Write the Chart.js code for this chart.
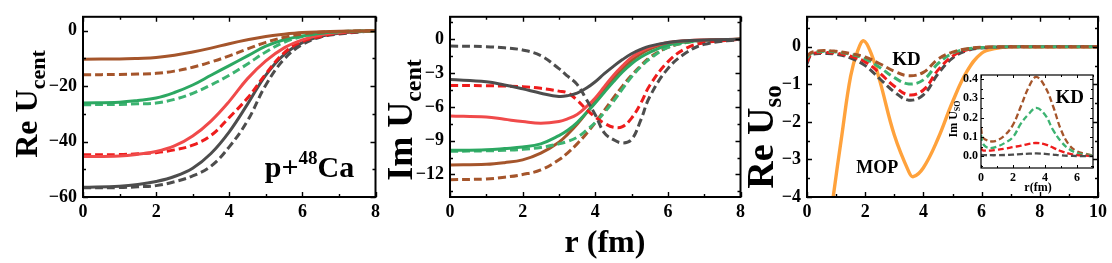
<!DOCTYPE html>
<html>
<head>
<meta charset="utf-8">
<script src="https://cdn.jsdelivr.net/npm/chart.js@4/dist/chart.umd.min.js"></script>
<style>
  body { margin: 0; background: #fff; }
  #wrap { position: relative; width: 1112px; height: 263px; overflow: hidden; }
  canvas { position: absolute; top: 0; }
</style>
</head>
<body>
<div id="wrap">
  <canvas id="reCent" width="385" height="263" style="left:0px"></canvas>
  <canvas id="imCent" width="372" height="263" style="left:378px"></canvas>
  <canvas id="reSo" width="367" height="263" style="left:745px"></canvas>
  <canvas id="imSo" width="160" height="140" style="left:940px;top:60px"></canvas>
</div>
<script>
// ---- data ----

// Re U_cent, r in fm
const rRe = [0, 1, 1.5, 2, 2.5, 3, 3.5, 4, 4.5, 5, 5.5, 6, 6.5, 7, 8];
const reBrownSolid = [-10.3, -10.2, -10.0, -9.7, -8.9, -7.7, -6.3, -4.7, -3.3, -2.1, -1.3, -0.7, -0.4, -0.2, 0];
const reBrownDash  = [-15.9, -15.8, -15.65, -15.4, -14.6, -13.2, -11.3, -9.1, -6.6, -4.2, -2.4, -1.2, -0.6, -0.3, 0];
const reGreenSolid = [-26.1, -25.8, -25.2, -24.3, -22.3, -19.6, -16.1, -12.6, -9.1, -5.6, -3.3, -1.9, -0.9, -0.4, 0];
const reGreenDash  = [-26.7, -26.6, -26.4, -26.1, -24.8, -22.6, -19.6, -16.1, -12.0, -7.7, -4.2, -2.1, -0.9, -0.4, 0];
const reRedSolid   = [-45.4, -45.2, -44.6, -43.6, -41.6, -38.0, -32.6, -25.5, -17.3, -10.9, -6.2, -3.3, -1.6, -0.7, 0];
const reRedDash    = [-44.8, -44.7, -44.4, -44.0, -43.0, -41.3, -37.8, -31.3, -24.3, -15.6, -8.0, -3.9, -2.1, -0.9, 0];
const reGreySolid  = [-56.5, -56.1, -55.5, -54.4, -52.6, -49.6, -44.3, -36.5, -26.5, -16.0, -8.6, -4.3, -2.0, -0.9, 0];
const reGreyDash   = [-56.7, -56.6, -56.3, -55.9, -54.5, -52.4, -48.9, -41.9, -32.5, -19.6, -10.3, -5.0, -2.3, -1.2, 0];

// Im U_cent
const rIm = [0, 1, 1.5, 2, 2.5, 3, 3.25, 3.5, 3.75, 4, 4.25, 4.5, 4.75, 5, 5.25, 5.5, 6, 6.5, 7, 8];
const imGreyDash   = [-0.6, -0.65, -0.75, -0.95, -1.45, -2.6, -3.3, -4.0, -5.3, -6.7, -8.3, -8.9, -9.2, -8.9, -7.2, -5.1, -2.6, -1.2, -0.45, 0];
const imGreySolid  = [-3.57, -3.77, -4.05, -4.4, -4.78, -5.07, -5.0, -4.78, -4.35, -3.77, -3.05, -2.4, -1.8, -1.28, -0.9, -0.6, -0.28, -0.12, -0.05, 0];
const imRedDash    = [-4.1, -4.12, -4.15, -4.2, -4.35, -4.6, -4.78, -5.4, -6.2, -6.9, -7.45, -7.8, -7.75, -7.0, -5.7, -4.1, -2.0, -0.8, -0.3, 0];
const imRedSolid   = [-6.8, -6.9, -7.1, -7.3, -7.45, -7.3, -7.05, -6.67, -6.0, -5.2, -4.2, -3.2, -2.35, -1.6, -1.1, -0.72, -0.29, -0.12, -0.05, 0];
const imGreenSolid = [-9.86, -9.8, -9.7, -9.57, -9.28, -8.55, -8.05, -7.39, -6.55, -5.65, -4.7, -3.77, -2.9, -2.17, -1.6, -1.16, -0.52, -0.23, -0.1, 0];
const imGreenDash  = [-9.94, -9.9, -9.85, -9.77, -9.6, -9.28, -9.05, -8.7, -8.1, -7.39, -6.5, -5.5, -4.4, -3.33, -2.45, -1.74, -0.72, -0.29, -0.1, 0];
const imBrownSolid = [-11.16, -11.1, -10.95, -10.7, -10.1, -9.13, -8.4, -7.54, -6.55, -5.5, -4.45, -3.48, -2.6, -1.88, -1.3, -0.87, -0.35, -0.15, -0.08, 0];
const imBrownDash  = [-12.46, -12.4, -12.25, -12.0, -11.6, -10.7, -10.05, -9.28, -8.4, -7.39, -6.3, -5.2, -4.15, -3.19, -2.35, -1.6, -0.72, -0.29, -0.1, 0];

// Re U_so
const rMop = [0.7, 0.9, 1.2, 1.5, 1.75, 1.95, 2.2, 2.5, 3, 3.5, 3.65, 4, 4.5, 5, 5.5, 6, 6.5, 7, 8, 10];
const soMop = [-5.2, -4.0, -2.34, -0.78, -0.09, 0.16, -0.17, -0.9, -2.35, -3.33, -3.46, -3.22, -2.45, -1.47, -0.65, -0.17, -0.04, 0, 0, 0];
const rKd = [0, 0.15, 0.6, 1, 1.5, 2, 2.5, 3, 3.5, 4, 4.5, 5, 5.5, 6, 7, 8, 10];
const soBrown = [-0.25, -0.15, -0.1, -0.12, -0.18, -0.27, -0.45, -0.65, -0.77, -0.68, -0.33, -0.14, -0.05, -0.01, 0, 0, 0];
const soGreen = [-0.3, -0.17, -0.12, -0.14, -0.2, -0.32, -0.55, -0.82, -0.99, -0.88, -0.45, -0.17, -0.06, -0.02, 0, 0, 0];
const soRed   = [-0.4, -0.2, -0.15, -0.17, -0.25, -0.4, -0.7, -1.05, -1.28, -1.15, -0.62, -0.25, -0.08, -0.02, 0, 0, 0];
const soGrey  = [-0.45, -0.22, -0.18, -0.2, -0.3, -0.5, -0.85, -1.2, -1.42, -1.28, -0.72, -0.3, -0.1, -0.03, 0, 0, 0];

// inset: Im U_so
const rIn = [0, 0.1, 0.3, 0.6, 1, 1.5, 2, 2.5, 3, 3.45, 4, 4.5, 5, 5.5, 6, 6.5, 7];
const inBrown = [0.146, 0.1, 0.086, 0.077, 0.082, 0.11, 0.163, 0.26, 0.36, 0.41, 0.36, 0.26, 0.137, 0.06, 0.026, 0.014, 0.005];
const inGreen = [0.11, 0.07, 0.05, 0.043, 0.05, 0.07, 0.1, 0.17, 0.22, 0.25, 0.215, 0.137, 0.077, 0.038, 0.017, 0.009, 0.005];
const inRed   = [0.043, 0.032, 0.03, 0.03, 0.034, 0.04, 0.048, 0.055, 0.065, 0.069, 0.062, 0.045, 0.027, 0.014, 0.007, 0.004, 0.002];
const inGrey  = [0.009, 0.007, 0.006, 0.006, 0.006, 0.007, 0.009, 0.012, 0.014, 0.015, 0.013, 0.009, 0.005, 0.003, 0.002, 0.001, 0.001];

// ---- styling ----
const FONT = '"Liberation Serif", "Times New Roman", serif';
const C = {
  grey: '#4d4d4d',
  red: '#f04a4a',
  redDash: '#ee1c1c',
  green: '#2ca862',
  greenDash: '#3cb371',
  brown: '#a5552b',
  orange: '#ffa23c'
};

function line(xs, ys, color, dashed, width) {
  return {
    data: xs.map((x, i) => ({ x: x, y: ys[i] })),
    borderColor: color,
    borderWidth: width || 3,
    borderDash: dashed ? [8, 4] : [],
    pointRadius: 0,
    fill: false,
    tension: 0.4
  };
}

const minus = v => String(v).replace('-', '\u2212');

// box + inward ticks on all four sides
const frameTicks = {
  id: 'frameTicks',
  beforeDraw(chart, args, opts) {
    if (!opts.whiteArea) return;
    const { ctx, chartArea: a } = chart;
    ctx.save();
    ctx.fillStyle = '#fff';
    ctx.fillRect(a.left, a.top, a.width, a.height);
    ctx.restore();
  },
  afterDatasetsDraw(chart, args, opts) {
    const { ctx, chartArea: a, scales } = chart;
    const x = scales.x, y = scales.y;
    const major = opts.major || 5, minor = opts.minor || 3;
    ctx.save();
    ctx.strokeStyle = '#000';
    ctx.lineWidth = opts.tickWidth || 1.4;
    ctx.beginPath();
    const xt = (v, len) => {
      const p = Math.round(x.getPixelForValue(v)) + 0.5;
      ctx.moveTo(p, a.bottom); ctx.lineTo(p, a.bottom - len);
      ctx.moveTo(p, a.top); ctx.lineTo(p, a.top + len);
    };
    const yt = (v, len) => {
      const p = Math.round(y.getPixelForValue(v)) + 0.5;
      ctx.moveTo(a.left, p); ctx.lineTo(a.left + len, p);
      ctx.moveTo(a.right, p); ctx.lineTo(a.right - len, p);
    };
    const steps = (sc, step, fn, len) => {
      for (let v = Math.ceil(sc.min / step - 1e-9) * step; v <= sc.max + 1e-9; v += step) fn(v, len);
    };
    steps(x, opts.xMinor, xt, minor);
    steps(y, opts.yMinor, yt, minor);
    x.ticks.forEach(t => xt(t.value, major));
    y.ticks.forEach(t => yt(t.value, major));
    ctx.stroke();
    ctx.lineWidth = opts.frameWidth || 2;
    ctx.strokeRect(a.left, a.top, a.width, a.height);
    ctx.restore();
  }
};

// rich text (sub/superscripts) drawn onto the chart
const richText = {
  id: 'richText',
  afterDraw(chart, args, opts) {
    const { ctx, scales } = chart;
    (opts.items || []).forEach(it => {
      let px = it.x, py = it.y;
      if (it.data) { px = scales.x.getPixelForValue(it.x); py = scales.y.getPixelForValue(it.y); }
      ctx.save();
      ctx.fillStyle = '#000';
      ctx.textBaseline = 'alphabetic';
      ctx.textAlign = 'left';
      const widths = it.segs.map(s => { ctx.font = 'bold ' + s.size + 'px ' + FONT; return ctx.measureText(s.t).width; });
      const total = widths.reduce((a, b) => a + b, 0);
      ctx.translate(px, py);
      if (it.rotate) ctx.rotate(-Math.PI / 2);
      let cx = it.center ? -total / 2 : 0;
      it.segs.forEach((s, i) => {
        ctx.font = 'bold ' + s.size + 'px ' + FONT;
        ctx.fillText(s.t, cx, s.dy || 0);
        cx += widths[i];
      });
      ctx.restore();
    });
  }
};

function axes(o) {
  return {
    x: {
      type: 'linear', min: o.xMin, max: o.xMax,
      grid: { display: false, drawTicks: false }, border: { display: false },
      ticks: { stepSize: o.xStep, includeBounds: false, padding: o.xPad, color: '#000',
               font: { family: FONT, size: o.tickSize, weight: 'bold' }, maxRotation: 0,
               callback: v => minus(v) },
      afterFit: s => { s.height = o.xH; }
    },
    y: {
      type: 'linear', min: o.yMin, max: o.yMax,
      grid: { display: false, drawTicks: false }, border: { display: false },
      ticks: { stepSize: o.yStep, includeBounds: false, padding: o.yPad, color: '#000',
               font: { family: FONT, size: o.tickSize, weight: 'bold' },
               callback: o.yFmt || (v => minus(v)) },
      afterFit: s => { s.width = o.yW; }
    }
  };
}

function make(id, datasets, scales, padding, frame, texts) {
  return new Chart(document.getElementById(id), {
    type: 'line',
    data: { datasets: datasets },
    options: {
      responsive: false,
      animation: false,
      layout: { padding: padding },
      scales: scales,
      plugins: {
        legend: { display: false },
        tooltip: { enabled: false },
        frameTicks: frame,
        richText: { items: texts }
      }
    },
    plugins: [frameTicks, richText]
  });
}

// panel 1: Re U_cent
make('reCent', [
  line(rRe, reBrownSolid, C.brown, false),
  line(rRe, reBrownDash, C.brown, true),
  line(rRe, reGreenSolid, C.green, false),
  line(rRe, reGreenDash, C.greenDash, true),
  line(rRe, reRedSolid, C.red, false),
  line(rRe, reRedDash, C.redDash, true),
  line(rRe, reGreySolid, C.grey, false),
  line(rRe, reGreyDash, C.grey, true)
], axes({ xMin: 0, xMax: 8, xStep: 2, yMin: -60, yMax: 5, yStep: 20, xPad: 5, yPad: 6, xH: 66, yW: 83, tickSize: 18 }),
{ top: 13, right: 9, left: 0, bottom: 0 },
{ xMinor: 1, yMinor: 10 },
[
  { x: 37, y: 104, rotate: true, center: true, segs: [{ t: 'Re U', size: 32 }, { t: 'cent', size: 22, dy: 8 }] },
  { data: true, x: 4.97, y: -52.9, segs: [{ t: 'p+', size: 30 }, { t: '48', size: 19, dy: -13 }, { t: 'Ca', size: 30 }] }
]);

// panel 2: Im U_cent
make('imCent', [
  line(rIm, imGreyDash, C.grey, true),
  line(rIm, imGreySolid, C.grey, false),
  line(rIm, imRedDash, C.redDash, true),
  line(rIm, imRedSolid, C.red, false),
  line(rIm, imGreenSolid, C.green, false),
  line(rIm, imGreenDash, C.greenDash, true),
  line(rIm, imBrownSolid, C.brown, false),
  line(rIm, imBrownDash, C.brown, true)
], axes({ xMin: 0, xMax: 8, xStep: 2, yMin: -14, yMax: 2, yStep: 3, xPad: 5, yPad: 6, xH: 66, yW: 72, tickSize: 18 }),
{ top: 13, right: 6, left: 0, bottom: 0 },
{ xMinor: 1, yMinor: 1.5 },
[
  { x: 34, y: 120, rotate: true, center: true, segs: [{ t: 'Im U', size: 36 }, { t: 'cent', size: 24, dy: 9 }] },
  { x: 227, y: 252, center: true, segs: [{ t: 'r (fm)', size: 32 }] }
]);

// panel 3: Re U_so
make('reSo', [
  line(rKd, soBrown, C.brown, true, 3),
  line(rKd, soGreen, C.greenDash, true, 3),
  line(rKd, soRed, C.redDash, true, 3),
  line(rKd, soGrey, C.grey, true, 3),
  line(rMop, soMop, C.orange, false, 3.4)
], axes({ xMin: 0, xMax: 10, xStep: 2, yMin: -4, yMax: 0.8, yStep: 1, xPad: 5, yPad: 6, xH: 66, yW: 62, tickSize: 18 }),
{ top: 13, right: 12, left: 0, bottom: 0 },
{ xMinor: 1, yMinor: 0.5 },
[
  { x: 28, y: 137, rotate: true, center: true, segs: [{ t: 'Re U', size: 38 }, { t: 'so', size: 25, dy: 8 }] },
  { data: true, x: 3.42, y: -0.49, center: true, segs: [{ t: 'KD', size: 19 }] },
  { data: true, x: 2.41, y: -3.35, center: true, segs: [{ t: 'MOP', size: 18 }] }
]);

// inset: Im U_so
make('imSo', [
  line(rIn, inGrey, C.grey, true, 2.3),
  line(rIn, inRed, C.redDash, true, 2.3),
  line(rIn, inGreen, C.greenDash, true, 2.3),
  line(rIn, inBrown, C.brown, true, 2.3)
].map(d => Object.assign(d, { borderDash: [6, 3] })),
axes({ xMin: 0, xMax: 7, xStep: 2, yMin: -0.06, yMax: 0.42, yStep: 0.1, xPad: 3, yPad: 3, xH: 32, yW: 41, tickSize: 12,
       yFmt: v => v.toFixed(1) }),
{ top: 15, right: 7, left: 0, bottom: 0 },
{ xMinor: 1, yMinor: 0.05, major: 3, minor: 2, tickWidth: 1, frameWidth: 1.2, whiteArea: true },
[
  { x: 17, y: 59, rotate: true, center: true, segs: [{ t: 'Im U', size: 12 }, { t: 'SO', size: 8, dy: 3 }] },
  { x: 98, y: 131, center: true, segs: [{ t: 'r(fm)', size: 12 }] },
  { data: true, x: 5.55, y: 0.275, center: true, segs: [{ t: 'KD', size: 19 }] }
]);
</script>
</body>
</html>
